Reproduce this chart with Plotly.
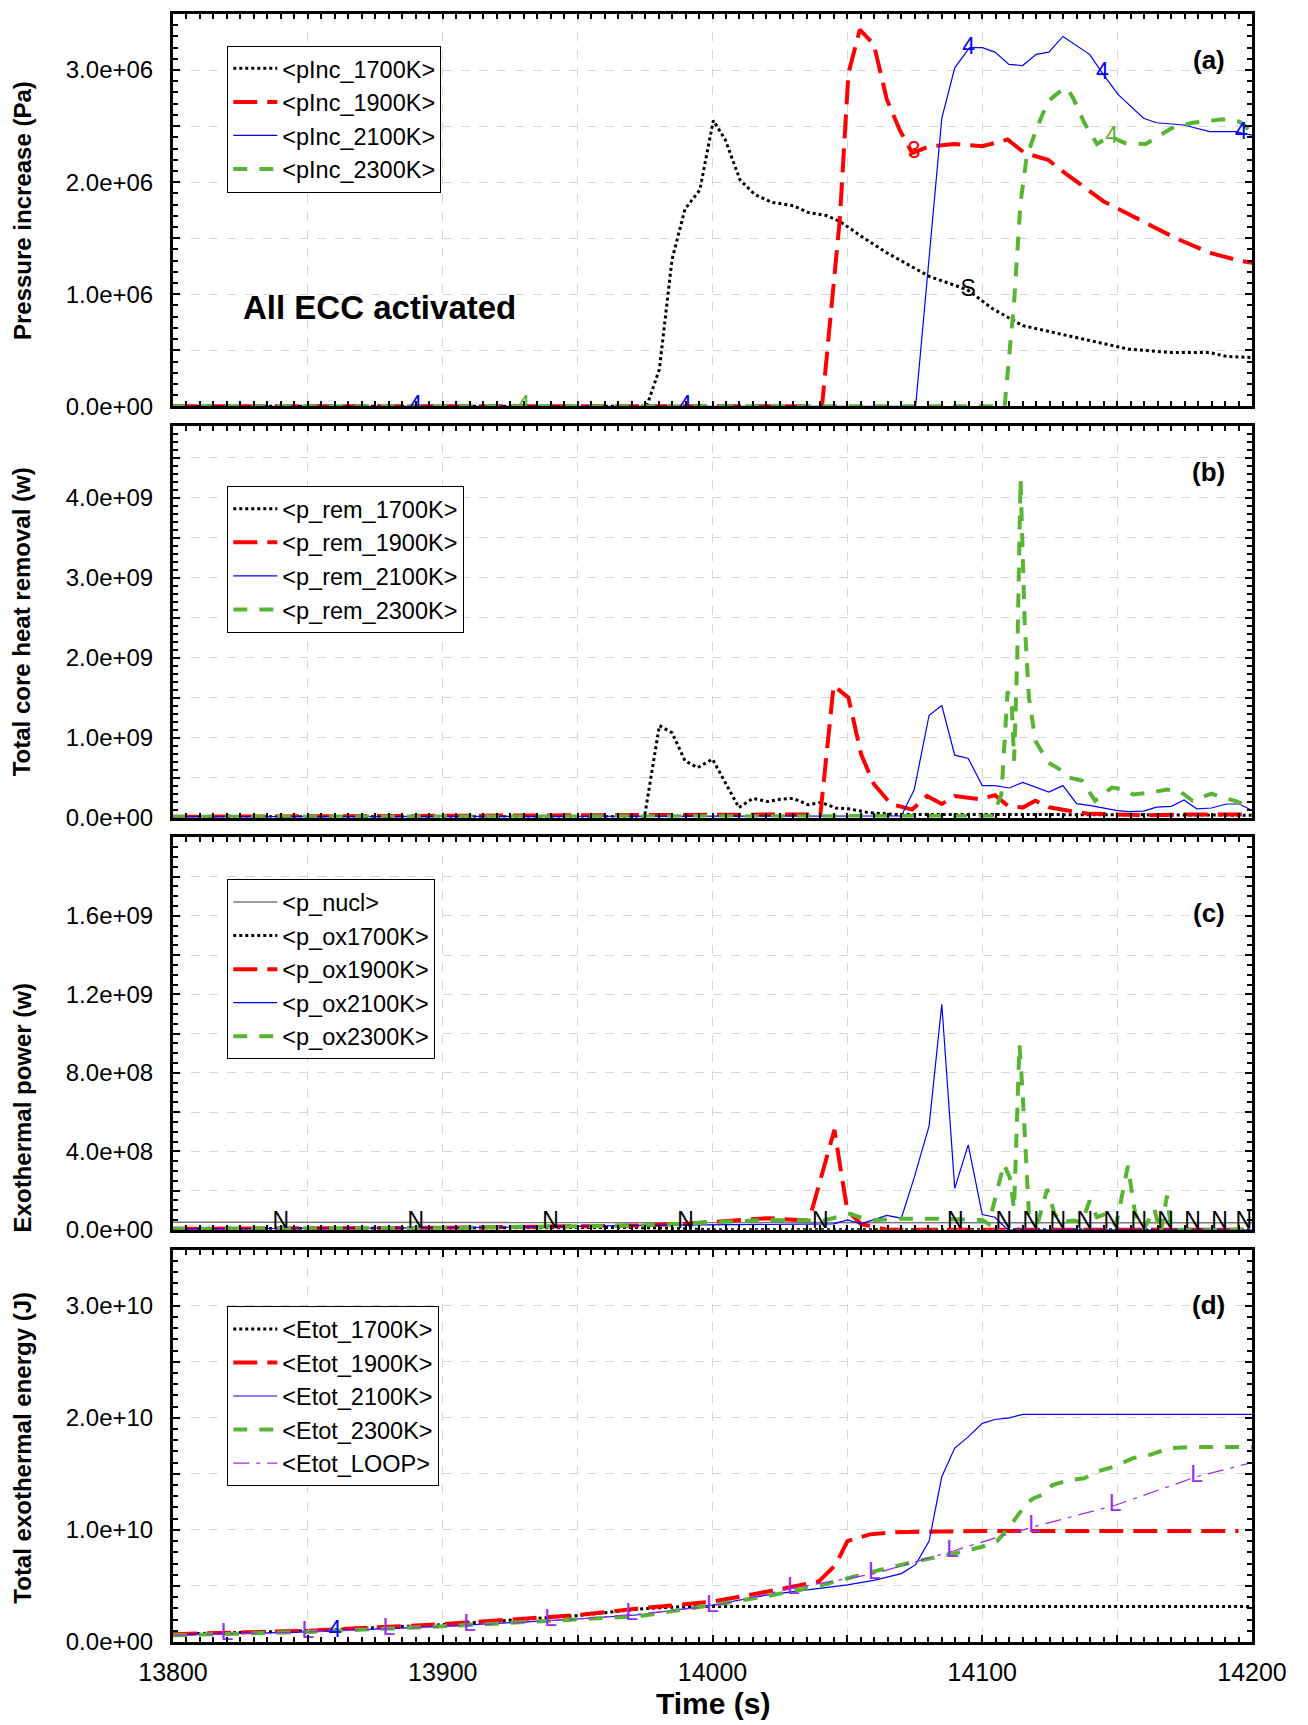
import numpy as np
import plotly.graph_objects as go
from plotly.subplots import make_subplots

# ---------------- Panel (a): pressure increase (Pa) ----------------
t_pinc_1700 = [13800, 13975.6, 13980.3, 13985, 13989.8, 13995.3, 14000.3, 14004.7, 14010.2, 14015.7,
               14022, 14030, 14035.4, 14042.5, 14047.2, 14055, 14064.6, 14080.3, 14094.5, 14103.9,
               14115, 14124.4, 14137, 14154.3, 14170, 14184.3, 14190.6, 14200]
pinc_1700 = [0, 0, 0.33e6, 1.31e6, 1.76e6, 1.93e6, 2.55e6, 2.38e6, 2.02e6, 1.89e6,
             1.82e6, 1.79e6, 1.73e6, 1.70e6, 1.65e6, 1.52e6, 1.37e6, 1.16e6, 1.04e6, 0.87e6,
             0.72e6, 0.67e6, 0.60e6, 0.51e6, 0.48e6, 0.48e6, 0.445e6, 0.436e6]
t_pinc_1900 = [13800, 14040.6, 14047.2, 14050.4, 14054.6, 14059.8, 14064.6, 14069.3, 14074, 14080.3,
               14089.8, 14100, 14109.4, 14115.7, 14124.4, 14130.7, 14144.9, 14162.2, 14171.7, 14184.3,
               14195.3, 14200]
pinc_1900 = [0, 0, 1.67e6, 2.97e6, 3.36e6, 3.23e6, 2.74e6, 2.47e6, 2.26e6, 2.32e6,
             2.34e6, 2.32e6, 2.38e6, 2.26e6, 2.20e6, 2.08e6, 1.83e6, 1.62e6, 1.50e6, 1.37e6,
             1.30e6, 1.28e6]
t_pinc_2100 = [13800, 14075.3, 14085, 14089.8, 14095.3, 14100, 14104.7, 14109.9, 14115, 14120,
               14124.7, 14129.9, 14139.8, 14144.9, 14150.4, 14159.8, 14164.6, 14174.8, 14184.3, 14193.7,
               14200]
pinc_2100 = [0, 0, 2.57e6, 3.02e6, 3.20e6, 3.20e6, 3.16e6, 3.05e6, 3.04e6, 3.14e6,
             3.16e6, 3.30e6, 3.14e6, 2.96e6, 2.78e6, 2.57e6, 2.53e6, 2.51e6, 2.45e6, 2.45e6,
             2.42e6]
t_pinc_2300 = [13800, 14108.3, 14111.8, 14114.2, 14116.5, 14120.5, 14124.4, 14128.3, 14131.5, 14133.9,
               14137.8, 14142.5, 14147.2, 14152.8, 14160.6, 14170.1, 14178, 14189, 14195.3, 14200]
pinc_2300 = [0, 0, 0.93e6, 1.82e6, 2.23e6, 2.50e6, 2.72e6, 2.80e6, 2.84e6, 2.74e6,
             2.53e6, 2.34e6, 2.41e6, 2.35e6, 2.34e6, 2.48e6, 2.53e6, 2.56e6, 2.54e6, 2.45e6]

# ---------------- Panel (b): total core heat removal (W) ----------------
t_prem_1700 = [13800, 13974.8, 13980.3, 13985, 13989.8, 13994.5, 14000, 14004.7, 14009.8, 14015,
               14020.5, 14025.2, 14030, 14035.4, 14040.2, 14045.7, 14050.4, 14058.3, 14067.7, 14083.5,
               14099, 14200]
prem_1700 = [0.01e9, 0.01e9, 1.15e9, 1.06e9, 0.71e9, 0.625e9, 0.73e9, 0.44e9, 0.125e9, 0.24e9,
             0.20e9, 0.23e9, 0.24e9, 0.16e9, 0.19e9, 0.12e9, 0.11e9, 0.06e9, 0.04e9, 0.04e9,
             0.04e9, 0.03e9]
t_prem_1900 = [13800, 14040, 14044.9, 14050.4, 14055.1, 14059.8, 14066.1, 14074, 14079.5, 14085,
               14089.8, 14099.2, 14104.7, 14109.4, 14115, 14119.7, 14125.2, 14130.7, 14138.6, 14149.6,
               14162.2, 14178, 14200]
prem_1900 = [0.01e9, 0.04e9, 1.65e9, 1.50e9, 0.79e9, 0.42e9, 0.17e9, 0.10e9, 0.27e9, 0.17e9,
             0.27e9, 0.23e9, 0.28e9, 0.15e9, 0.125e9, 0.21e9, 0.125e9, 0.09e9, 0.05e9, 0.04e9,
             0.03e9, 0.04e9, 0.04e9]
t_prem_2100 = [13800, 14070, 14074.8, 14080.3, 14085, 14089.8, 14094.8, 14100, 14104.7, 14110,
               14115, 14119.7, 14124.7, 14129.9, 14135, 14140.2, 14149.6, 14154.3, 14159.8, 14164.6,
               14170.1, 14174.8, 14179.5, 14185, 14190.6, 14195.3, 14200]
prem_2100 = [0.01e9, 0.02e9, 0.35e9, 1.28e9, 1.40e9, 0.78e9, 0.74e9, 0.40e9, 0.40e9, 0.37e9,
             0.44e9, 0.38e9, 0.32e9, 0.40e9, 0.175e9, 0.15e9, 0.09e9, 0.075e9, 0.08e9, 0.13e9,
             0.14e9, 0.22e9, 0.11e9, 0.12e9, 0.17e9, 0.17e9, 0.09e9]
t_prem_2300 = [13800, 14103.9, 14107.1, 14109.4, 14111, 14111.8, 14113, 14114.2, 14115, 14115.7,
               14117.3, 14119.7, 14124.4, 14129.9, 14132.3, 14137, 14141.8, 14148, 14152.8, 14155.9,
               14162.2, 14168.5, 14173.2, 14178, 14185, 14189, 14193.7, 14200]
prem_2300 = [0.01e9, 0.02e9, 0.29e9, 1.58e9, 1.375e9, 0.71e9, 2.04e9, 4.23e9, 3.29e9, 2.46e9,
             1.5e9, 0.96e9, 0.69e9, 0.58e9, 0.50e9, 0.46e9, 0.21e9, 0.375e9, 0.35e9, 0.29e9,
             0.31e9, 0.35e9, 0.33e9, 0.21e9, 0.30e9, 0.25e9, 0.21e9, 0.125e9]

# ---------------- Panel (c): exothermal power (W) ----------------
t_nucl = [13800, 14000, 14200]
p_nucl = [3.8e7, 3.7e7, 3.6e7]
t_ox1700 = [13800, 13900, 13970, 13990, 14000, 14200]
pox_1700 = [0.5e7, 0.8e7, 1.2e7, 0.5e7, 0, 0]
t_ox1900 = [13800, 13900, 13973, 13989, 14020.5, 14035.4, 14037, 14043.3, 14045.2, 14047.2,
            14050, 14055, 14064.6, 14200]
pox_1900 = [0.5e7, 1.0e7, 2.2e7, 3.0e7, 5.9e7, 4.7e7, 1.07e8, 4.1e8, 5.1e8, 3.35e8,
            0.98e8, 0.3e8, 0, 0]
t_ox2100 = [13800, 13900, 13973, 14035, 14045, 14050, 14055, 14064.6, 14070, 14074.8,
            14080.3, 14085, 14089.8, 14094.8, 14100, 14104.7, 14109.4, 14200]
pox_2100 = [0.5e7, 1.0e7, 2.2e7, 3.0e7, 3.0e7, 5.0e7, 3.0e7, 7.3e7, 5.9e7, 2.67e8,
            5.3e8, 11.5e8, 2.11e8, 4.33e8, 0.78e8, 0.64e8, 0, 0]
t_ox2300 = [13800, 13900, 13973, 14020.5, 14041, 14051, 14058.3, 14067.7, 14083.5, 14100,
            14102.4, 14108, 14110.2, 14111.8, 14113.8, 14115, 14117.3, 14120.5, 14124.1, 14126.8,
            14129.1, 14133.9, 14137, 14139.8, 14142.5, 14145.7, 14149.6, 14154, 14156.7, 14159.8,
            14163.8, 14166.1, 14168.5, 14170, 14200]
pox_2300 = [0.5e7, 1.0e7, 2.2e7, 5.0e7, 4.7e7, 8.1e7, 4.7e7, 5.6e7, 5.6e7, 5.0e7,
            3.0e7, 3.35e8, 2.67e8, 1.07e8, 9.44e8, 6.9e8, 0.81e8, 0.3e8, 2.08e8, 0.81e8,
            0.39e8, 0.47e8, 0.39e8, 1.49e8, 0.64e8, 0.81e8, 0.22e8, 3.26e8, 0.81e8, 0,
            1.07e8, -0.2e8, 1.74e8, 0, 0]

# ---------------- Panel (d): total exothermal energy (J) ----------------
t_e1700 = [13800, 13850, 13900, 13950, 13973, 13990, 14200]
e_1700 = [0.07e10, 0.10e10, 0.155e10, 0.235e10, 0.295e10, 0.317e10, 0.317e10]
t_e1900 = [13800, 13850, 13900, 13950, 13973, 14000, 14020.5, 14039.4, 14045.7, 14050,
           14058.3, 14067.7, 14083.5, 14100, 14195]
e_1900 = [0.07e10, 0.10e10, 0.16e10, 0.24e10, 0.30e10, 0.36e10, 0.45e10, 0.54e10, 0.69e10, 0.90e10,
          0.96e10, 0.98e10, 0.985e10, 0.99e10, 0.99e10]
t_e2100 = [13800, 13850, 13900, 13950, 13973, 14000, 14020.5, 14039.4, 14050, 14059.8,
           14070, 14075.3, 14080.3, 14085, 14089.8, 14094.8, 14100, 14104.7, 14110, 14115, 14200]
e_2100 = [0.065e10, 0.09e10, 0.14e10, 0.205e10, 0.243e10, 0.33e10, 0.42e10, 0.48e10, 0.51e10, 0.55e10,
          0.61e10, 0.69e10, 0.90e10, 1.475e10, 1.73e10, 1.83e10, 1.95e10, 1.985e10, 2.00e10, 2.03e10, 2.03e10]
t_e2300 = [13800, 13850, 13900, 13950, 13973, 14000, 14020.5, 14039.4, 14059.8, 14075.6,
           14089.8, 14100, 14105.5, 14110.2, 14116.5, 14118.9, 14122, 14126, 14132.3, 14137.8,
           14142.5, 14149.6, 14155.9, 14162.2, 14169.3, 14178, 14200]
e_2300 = [0.06e10, 0.09e10, 0.14e10, 0.20e10, 0.23e10, 0.33e10, 0.41e10, 0.50e10, 0.63e10, 0.72e10,
          0.79e10, 0.85e10, 0.90e10, 1.03e10, 1.24e10, 1.28e10, 1.31e10, 1.40e10, 1.445e10, 1.46e10,
          1.52e10, 1.57e10, 1.64e10, 1.67e10, 1.73e10, 1.74e10, 1.74e10]
t_eloop = [13800, 13850, 13900, 13950, 13973, 14000, 14030, 14060, 14089, 14105,
           14119.4, 14149.3, 14179.5, 14200]
e_loop = [0.06e10, 0.09e10, 0.135e10, 0.205e10, 0.25e10, 0.32e10, 0.48e10, 0.61e10, 0.81e10, 0.93e10,
          1.03e10, 1.22e10, 1.475e10, 1.60e10]

# ---------------- curve label marks (times) ----------------
mk_a_blue = [13890, 13990, 14095, 14144.5, 14196]
mk_a_green = [13930, 14148]
mk_a_red = [14074.8]
mk_a_black = [14094.8]
mk_c_nucl = [13840, 13890, 13940, 13990, 14040, 14090, 14108, 14118, 14128, 14138,
             14148, 14158, 14168, 14178, 14188, 14197]
mk_d_loop = [13820, 13850, 13880, 13910, 13940, 13970, 14000, 14030, 14060, 14089,
             14119.4, 14149.3, 14179.5]
mk_d_blue = [13860]

# ---------------- ticks ----------------
x_range = [13800, 14200]
x_tickvals = list(range(13800, 14201, 50))
x_ticktext = [str(v) if v % 100 == 0 else "" for v in x_tickvals]

y_ranges = [[0, 3.5e6], [0, 4.9e9], [0, 2.0e9], [0, 3.5e10]]
y_grid_steps = [0.5e6, 0.5e9, 2e8, 0.5e10]
y_label_steps = [1e6, 1e9, 4e8, 1e10]
y_grid_tops = [3.0e6, 4.5e9, 1.8e9, 3.0e10]
y_minor = [0.1e6, 0.1e9, 0.5e8, 0.1e10]

y_titles = ["Pressure increase (Pa)", "Total core heat removal (w)",
            "Exothermal power (w)", "Total exothermal energy (J)"]
panel_tags = ["(a)", "(b)", "(c)", "(d)"]

BLACK = "#000000"
RED = "#ff0000"
BLUE = "#0000ff"
GREEN = "#58b534"
PURPLE = "#9d2bf0"
GRAY = "#777777"
FONT = "Liberation Sans, Arial, sans-serif"

st_black = dict(color=BLACK, width=3, dash="dot")
st_red = dict(color=RED, width=4, dash="24px,10px")
st_blue = dict(color=BLUE, width=1.2)
st_green = dict(color=GREEN, width=4, dash="14px,12px")
st_purple = dict(color=PURPLE, width=1.2, dash="16px,7px,4px,7px")
st_gray = dict(color=GRAY, width=1.5)

fig = make_subplots(rows=4, cols=1, shared_xaxes=True)

def add_line(row, t, v, name, style, legend):
    fig.add_trace(go.Scatter(x=t, y=v, mode="lines", name=name, line=style,
                             legend=legend, hoverinfo="skip"), row=row, col=1)

def add_marks(row, times, t, v, char, color):
    ys = np.interp(times, t, v)
    fig.add_trace(go.Scatter(x=times, y=ys, mode="text", text=[char] * len(times),
                             textposition="middle center",
                             textfont=dict(family=FONT, size=23, color=color),
                             showlegend=False, hoverinfo="skip"), row=row, col=1)

# (a)
add_line(1, t_pinc_1700, pinc_1700, "<pInc_1700K>", st_black, "legend")
add_line(1, t_pinc_1900, pinc_1900, "<pInc_1900K>", st_red, "legend")
add_line(1, t_pinc_2100, pinc_2100, "<pInc_2100K>", st_blue, "legend")
add_line(1, t_pinc_2300, pinc_2300, "<pInc_2300K>", st_green, "legend")
add_marks(1, mk_a_blue, t_pinc_2100, pinc_2100, "4", BLUE)
add_marks(1, mk_a_green, t_pinc_2300, pinc_2300, "4", GREEN)
add_marks(1, mk_a_red, t_pinc_1900, pinc_1900, "3", RED)
add_marks(1, mk_a_black, t_pinc_1700, pinc_1700, "S", BLACK)

# (b)
add_line(2, t_prem_1700, prem_1700, "<p_rem_1700K>", st_black, "legend2")
add_line(2, t_prem_1900, prem_1900, "<p_rem_1900K>", st_red, "legend2")
add_line(2, t_prem_2100, prem_2100, "<p_rem_2100K>", st_blue, "legend2")
add_line(2, t_prem_2300, prem_2300, "<p_rem_2300K>", st_green, "legend2")

# (c)
add_line(3, t_nucl, p_nucl, "<p_nucl>", st_gray, "legend3")
add_line(3, t_ox1700, pox_1700, "<p_ox1700K>", st_black, "legend3")
add_line(3, t_ox1900, pox_1900, "<p_ox1900K>", st_red, "legend3")
add_line(3, t_ox2100, pox_2100, "<p_ox2100K>", st_blue, "legend3")
add_line(3, t_ox2300, pox_2300, "<p_ox2300K>", st_green, "legend3")
add_marks(3, mk_c_nucl, t_nucl, p_nucl, "N", BLACK)

# (d)
add_line(4, t_e1700, e_1700, "<Etot_1700K>", st_black, "legend4")
add_line(4, t_e1900, e_1900, "<Etot_1900K>", st_red, "legend4")
add_line(4, t_e2100, e_2100, "<Etot_2100K>", st_blue, "legend4")
add_line(4, t_e2300, e_2300, "<Etot_2300K>", st_green, "legend4")
add_line(4, t_eloop, e_loop, "<Etot_LOOP>", st_purple, "legend4")
add_marks(4, mk_d_loop, t_eloop, e_loop, "L", PURPLE)
add_marks(4, mk_d_blue, t_e2100, e_2100, "4", BLUE)

domains = [[0.7590, 1.0], [0.5064, 0.7471], [0.2532, 0.4942], [0.0, 0.2410]]
grid_style = dict(gridcolor="#d6d6d6", griddash="dash", gridwidth=1)

for i in range(4):
    xa = "xaxis" if i == 0 else f"xaxis{i+1}"
    ya = "yaxis" if i == 0 else f"yaxis{i+1}"
    fig.layout[xa].update(
        range=x_range, tickmode="array", tickvals=x_tickvals,
        ticktext=x_ticktext if i == 3 else [""] * len(x_tickvals),
        showticklabels=(i == 3),
        ticks="inside", ticklen=7, tickwidth=1.5, tickcolor=BLACK,
        minor=dict(dtick=5, ticks="inside", ticklen=5, tickcolor=BLACK, showgrid=False),
        showline=True, linecolor=BLACK, linewidth=3, mirror="allticks",
        showgrid=True, zeroline=False, ticklabelstandoff=6,
        tickfont=dict(family=FONT, size=25, color=BLACK), **grid_style)
    tv = list(np.arange(0, y_grid_tops[i] + y_grid_steps[i] / 2, y_grid_steps[i]))
    tt = []
    for v in tv:
        ratio = v / y_label_steps[i]
        tt.append(f"{v:.1e}" if abs(ratio - round(ratio)) < 1e-6 else "")
    fig.layout[ya].update(
        domain=domains[i], range=y_ranges[i], tickmode="array", tickvals=tv, ticktext=tt,
        ticks="inside", ticklen=7, tickwidth=1.5, tickcolor=BLACK,
        minor=dict(dtick=y_minor[i], ticks="inside", ticklen=5, tickcolor=BLACK, showgrid=False),
        showline=True, linecolor=BLACK, linewidth=3, mirror="allticks",
        showgrid=True, zeroline=False, ticklabelstandoff=12,
        tickfont=dict(family=FONT, size=24, color=BLACK), **grid_style)

annotations = []
title_y = [0.8792, 0.6266, 0.328, 0.1196]
for i in range(4):
    annotations.append(dict(xref="paper", yref="paper", x=-0.1396, y=title_y[i],
                            text=f"<b>{y_titles[i]}</b>", textangle=-90, showarrow=False,
                            xanchor="center", yanchor="middle",
                            font=dict(family=FONT, size=24, color=BLACK)))
tag_y = [0.883, 0.882, 0.807, 0.858]
for i in range(4):
    xr = "x" if i == 0 else f"x{i+1}"
    yr = "y" if i == 0 else f"y{i+1}"
    annotations.append(dict(xref=f"{xr} domain", yref=f"{yr} domain", x=0.9765, y=tag_y[i],
                            text=f"<b>{panel_tags[i]}</b>", showarrow=False,
                            xanchor="right", yanchor="middle",
                            font=dict(family=FONT, size=26, color=BLACK)))
annotations.append(dict(xref="x", yref="y", x=13825.3, y=0.88e6, text="<b>All ECC activated</b>",
                        showarrow=False, xanchor="left", yanchor="middle",
                        font=dict(family=FONT, size=33, color=BLACK)))
annotations.append(dict(xref="paper", yref="paper", x=0.5006, y=-0.038, text="<b>Time (s)</b>",
                        showarrow=False, xanchor="center", yanchor="middle",
                        font=dict(family=FONT, size=30, color=BLACK)))

def legend_cfg(ytop):
    return dict(x=0.0503, y=ytop, xanchor="left", yanchor="top", bgcolor="white",
                bordercolor=BLACK, borderwidth=1, font=dict(family=FONT, size=23.5, color=BLACK),
                tracegroupgap=0, itemwidth=44)

fig.update_layout(
    width=1308, height=1725,
    margin=dict(l=173, r=56, t=11, b=83),
    paper_bgcolor="white", plot_bgcolor="white",
    font=dict(family=FONT, size=24, color=BLACK),
    legend=legend_cfg(0.9806),
    legend2=legend_cfg(0.7101),
    legend3=legend_cfg(0.4685),
    legend4=legend_cfg(0.2063),
    annotations=annotations,
    showlegend=True,
)

fig.write_html("out.html")
